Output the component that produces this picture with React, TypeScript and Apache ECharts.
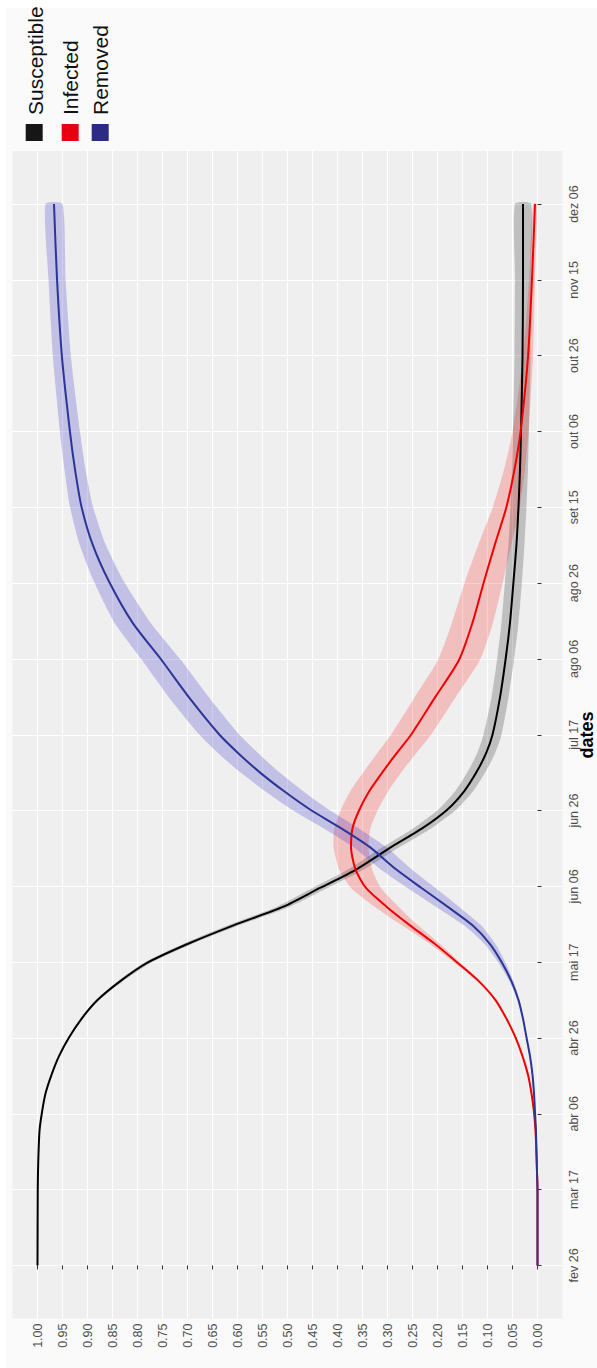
import React, { useEffect, useRef } from 'react';
import * as echarts from 'echarts';

// Tick labels (date axis, shown vertically on the right side)
const dateLabels = ['fev 26', 'mar 17', 'abr 06', 'abr 26', 'mai 17', 'jun 06', 'jun 26', 'jul 17', 'ago 06', 'ago 26', 'set 15', 'out 06', 'out 26', 'nov 15', 'dez 06'];
// Position of each date tick, in days since fev 26
const tickDays = [0, 20.29, 40.57, 60.86, 81.14, 101.43, 121.71, 142, 162.29, 182.57, 202.86, 223.14, 243.43, 263.71, 284];
// Value axis ticks
const valueTicks = [0, 0.05, 0.1, 0.15, 0.2, 0.25, 0.3, 0.35, 0.4, 0.45, 0.5, 0.55, 0.6, 0.65, 0.7, 0.75, 0.8, 0.85, 0.9, 0.95, 1.0];

// Sample days (days since fev 26)
const days = [0, 20, 25, 30, 36, 41, 46, 51, 56, 61, 66, 71, 76, 81, 86, 91, 96, 101, 106, 112, 117, 122, 127, 132, 137, 142, 152, 162, 172, 183, 193, 203, 213, 223, 243, 264, 284];

const susceptible = [1.0, 0.9995, 0.999, 0.998, 0.996, 0.991, 0.984, 0.972, 0.957, 0.937, 0.912, 0.88, 0.835, 0.78, 0.7, 0.608, 0.508, 0.435, 0.362, 0.292, 0.23, 0.18, 0.146, 0.122, 0.103, 0.09, 0.075, 0.064, 0.055, 0.048, 0.042, 0.038, 0.035, 0.033, 0.03, 0.029, 0.029];
const infected = [0, 0, 0.001, 0.002, 0.004, 0.007, 0.012, 0.019, 0.03, 0.044, 0.062, 0.084, 0.117, 0.16, 0.205, 0.255, 0.302, 0.343, 0.364, 0.373, 0.37, 0.356, 0.336, 0.31, 0.282, 0.253, 0.205, 0.157, 0.13, 0.107, 0.085, 0.062, 0.046, 0.034, 0.019, 0.011, 0.005];
const removed = [0, 0, 0.001, 0.002, 0.003, 0.005, 0.007, 0.01, 0.015, 0.022, 0.029, 0.038, 0.052, 0.071, 0.095, 0.13, 0.18, 0.232, 0.283, 0.336, 0.393, 0.455, 0.508, 0.556, 0.598, 0.636, 0.697, 0.752, 0.81, 0.857, 0.89, 0.912, 0.925, 0.935, 0.951, 0.961, 0.967];

// Half-widths of the uncertainty ribbons
const susceptibleBand = [0, 0, 0.001, 0.001, 0.001, 0.001, 0.001, 0.001, 0.001, 0.001, 0.002, 0.003, 0.005, 0.007, 0.009, 0.011, 0.013, 0.015, 0.016, 0.017, 0.018, 0.018, 0.018, 0.018, 0.018, 0.018, 0.017, 0.017, 0.017, 0.017, 0.016, 0.016, 0.016, 0.016, 0.016, 0.016, 0.016];
const infectedBand = [0, 0, 0, 0, 0.001, 0.001, 0.001, 0.001, 0.001, 0.001, 0.001, 0.002, 0.003, 0.006, 0.01, 0.016, 0.024, 0.03, 0.033, 0.035, 0.036, 0.037, 0.038, 0.038, 0.039, 0.04, 0.041, 0.042, 0.041, 0.038, 0.033, 0.027, 0.021, 0.016, 0.01, 0.006, 0.004];
const removedBand = [0, 0, 0, 0, 0.001, 0.001, 0.001, 0.001, 0.001, 0.001, 0.001, 0.002, 0.004, 0.007, 0.011, 0.017, 0.023, 0.028, 0.031, 0.033, 0.035, 0.037, 0.038, 0.039, 0.04, 0.04, 0.04, 0.039, 0.036, 0.03, 0.026, 0.023, 0.021, 0.02, 0.018, 0.017, 0.017];

const legendNames = ['Susceptible', 'Infected', 'Removed'];
const lineColors = ['#000000', '#F00000', '#2B3595'];
const keyColors = ['#161616', '#E60012', '#2C2A85'];
const bandColors = ['rgba(0,0,0,0.2)', 'rgba(255,0,0,0.2)', 'rgba(60,50,200,0.25)'];

const FONT = '"Liberation Sans", Arial, Helvetica, sans-serif';

function bandSeries(center: number[], band: number[], color: string) {
  return {
    type: 'custom',
    silent: true,
    z: 1,
    data: [[0, 0]],
    renderItem: (_params: any, api: any) => {
      const pts: number[][] = [];
      for (let i = 0; i < days.length; i++) pts.push(api.coord([center[i] + band[i], days[i]]));
      for (let i = days.length - 1; i >= 0; i--) pts.push(api.coord([center[i] - band[i], days[i]]));
      return { type: 'polygon', shape: { points: pts, smooth: 0.2 }, style: { fill: color } };
    },
  };
}

function lineSeries(name: string, values: number[], color: string, z: number) {
  return {
    type: 'line',
    name,
    z,
    showSymbol: false,
    smooth: 0.25,
    data: days.map((d, i) => [values[i], d]),
    lineStyle: { color, width: 2 },
    itemStyle: { color },
  };
}

export default function App() {
  const ref = useRef<HTMLDivElement>(null);
  useEffect(() => {
    document.body.style.margin = '0';
    const chart = echarts.init(ref.current!, null, { renderer: 'svg' });

    const legendGraphics: any[] = [];
    const keyX = [25.7, 61.7, 91.7];
    const textX = [35, 70, 100];
    legendNames.forEach((n, i) => {
      legendGraphics.push({
        type: 'rect',
        shape: { x: keyX[i], y: 124, width: 17, height: 17 },
        style: { fill: keyColors[i] },
      });
      legendGraphics.push({
        type: 'text',
        x: textX[i],
        y: 115,
        rotation: Math.PI / 2,
        style: {
          text: n,
          fill: '#111111',
          font: `21px ${FONT}`,
          align: 'left',
          verticalAlign: 'middle',
        },
      });
    });

    const option: any = {
      animation: false,
      backgroundColor: '#FAFAFA',
      grid: {
        show: true,
        left: 12.5,
        top: 151,
        width: 550,
        height: 1167.5,
        backgroundColor: '#EFEFEF',
        borderWidth: 0,
        containLabel: false,
      },
      xAxis: {
        type: 'value',
        inverse: true,
        min: -0.05,
        max: 1.05,
        position: 'bottom',
        axisLine: { show: false },
        axisTick: { show: true, length: 4, lineStyle: { color: '#333333', width: 1 }, customValues: valueTicks },
        axisLabel: {
          customValues: valueTicks,
          rotate: 90,
          margin: 5,
          color: '#4D4D4D',
          fontSize: 12.5,
          fontFamily: FONT,
          formatter: (v: number) => v.toFixed(2),
        },
        splitLine: { show: true, lineStyle: { color: '#FFFFFF', width: 1.2 } },
      },
      yAxis: {
        type: 'value',
        position: 'right',
        min: -14.2,
        max: 298.2,
        axisLine: { show: false },
        axisTick: { show: true, length: 4, lineStyle: { color: '#333333', width: 1 }, customValues: tickDays },
        axisLabel: {
          customValues: tickDays,
          rotate: 90,
          margin: 5,
          color: '#4D4D4D',
          fontSize: 12.5,
          fontFamily: FONT,
          formatter: (v: number) => {
            const i = tickDays.findIndex((t) => Math.abs(t - v) < 0.01);
            return i >= 0 ? dateLabels[i] : '';
          },
        },
        splitLine: { show: true, lineStyle: { color: '#FFFFFF', width: 1.2 } },
      },
      graphic: [
        { type: 'rect', shape: { x: 0, y: 0, width: 597, height: 8 }, style: { fill: '#FFFFFF' } },
        { type: 'rect', shape: { x: 0, y: 0, width: 6, height: 1368 }, style: { fill: '#FFFFFF' } },
        ...legendGraphics,
        {
          type: 'text',
          x: 587,
          y: 735,
          rotation: Math.PI / 2,
          style: {
            text: 'dates',
            fill: '#000000',
            font: `bold 18px ${FONT}`,
            align: 'center',
            verticalAlign: 'middle',
          },
        },
      ],
      series: [
        bandSeries(susceptible, susceptibleBand, bandColors[0]),
        bandSeries(infected, infectedBand, bandColors[1]),
        bandSeries(removed, removedBand, bandColors[2]),
        lineSeries(legendNames[0], susceptible, lineColors[0], 3),
        lineSeries(legendNames[1], infected, lineColors[1], 4),
        lineSeries(legendNames[2], removed, lineColors[2], 5),
      ],
    };
    chart.setOption(option);
    return () => chart.dispose();
  }, []);
  return <div ref={ref} style={{ width: 597, height: 1368, background: '#FFFFFF' }} />;
}
